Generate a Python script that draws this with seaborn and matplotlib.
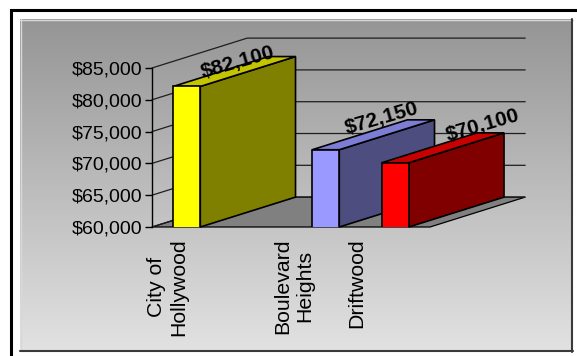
import numpy as np
import pandas as pd
import matplotlib
matplotlib.use("Agg")
import matplotlib.pyplot as plt
import seaborn as sns
from matplotlib.patches import Polygon, Rectangle
from matplotlib.lines import Line2D
from matplotlib.colors import LinearSegmentedColormap
from matplotlib.ticker import FuncFormatter
from matplotlib.transforms import offset_copy

# ---- data -------------------------------------------------------------
categories = ["City of\nHollywood", "", "Boulevard\nHeights", "Driftwood"]
prices = [82100, None, 72150, 70100]
y_ticks = [60000, 65000, 70000, 75000, 80000, 85000]

# ---- styles -----------------------------------------------------------
front_colors = ["#ffff00", None, "#9999ff", "#ff0000"]
side_colors = ["#808000", None, "#4d4d80", "#800000"]
top_colors = ["#c4c400", None, "#7d7dd6", "#c80000"]
# pixel nudges for the value labels (right, up)
label_nudge = [(3, 9), None, (8, 16), (40, 22)]

# depth of the pseudo-3D box, in category units and dollars
DX = 1.37
DY = 4700

sns.set_theme(style="white")
plt.rcParams["font.family"] = ["Liberation Sans", "DejaVu Sans"]

W, H = 577, 356
fig = plt.figure(figsize=(W / 100, H / 100), dpi=100)
fig.patch.set_facecolor("white")


def frac(x0, y0, x1, y1):
    return [x0 / W, 1 - y1 / H, (x1 - x0) / W, (y1 - y0) / H]


# gradient chart area
bg = fig.add_axes(frac(20, 19, 573, 351))
grad = np.linspace(0, 1, 256)[:, None]
cmap = LinearSegmentedColormap.from_list("panel", ["#959595", "#e2e2e2"])
bg.imshow(grad, aspect="auto", cmap=cmap, extent=[0, 1, 0, 1])
bg.axis("off")
bg.set_zorder(0)

# panel bevel edges
def fig_line(xs, ys, color, lw):
    fig.add_artist(Line2D([x / W for x in xs], [1 - y / H for y in ys],
                          transform=fig.transFigure, color=color, lw=lw))

fig_line([20, 573], [19.5, 19.5], "#d8d8d8", 1)
fig_line([20.5, 20.5], [19, 351], "#d8d8d8", 1)
fig_line([572, 572], [19, 352], "#3a3a3a", 1.5)
fig_line([20, 573], [351, 351], "#3a3a3a", 1.5)

# outer black frame
fig.add_artist(Rectangle((11.5 / W, -0.2), 1.2, (1 - 9.5 / H) + 0.2,
                         transform=fig.transFigure, fill=False,
                         edgecolor="black", lw=2.2))

# ---- plot -------------------------------------------------------------
ax = fig.add_axes(frac(152, 68, 430, 227))
ax.set_zorder(2)
ax.patch.set_visible(False)

df = pd.DataFrame({"area": categories, "price": prices}).dropna()
palette = {c: col for c, col in zip(categories, front_colors) if col}

sns.barplot(data=df, x="area", y="price", order=categories, hue="area",
            palette=palette, width=0.39, saturation=1, edgecolor="black",
            linewidth=1.2, legend=False, ax=ax)

ax.set_xlim(-0.5, 3.5)
ax.set_ylim(y_ticks[0], y_ticks[-1])
y0 = y_ticks[0]

# floor
ax.add_patch(Polygon([(-0.5, y0), (3.5, y0), (3.5 + DX, y0 + DY), (-0.5 + DX, y0 + DY)],
                     closed=True, facecolor="#808080", edgecolor="black",
                     lw=0.9, clip_on=False, zorder=1))

# gridlines on the side and back walls
for t in y_ticks:
    ax.plot([-0.5, -0.5 + DX, 3.5 + DX], [t, t + DY, t + DY],
            color="#1e1e1e", lw=0.9, clip_on=False, zorder=1.5)

# box faces for each bar
for p in list(ax.patches):
    if not isinstance(p, Rectangle):
        continue
    xl = p.get_x()
    xr = xl + p.get_width()
    i = int(round((xl + xr) / 2))
    v = prices[i]
    if v is None:
        continue
    p.set_zorder(4 + 2 * i)
    side = Polygon([(xr, y0), (xr + DX, y0 + DY), (xr + DX, v + DY), (xr, v)],
                   closed=True, facecolor=side_colors[i], edgecolor="black",
                   lw=1.2, clip_on=False, zorder=3 + 2 * i)
    top = Polygon([(xl, v), (xr, v), (xr + DX, v + DY), (xl + DX, v + DY)],
                  closed=True, facecolor=top_colors[i], edgecolor="black",
                  lw=1.2, clip_on=False, zorder=3 + 2 * i)
    ax.add_patch(side)
    ax.add_patch(top)

    nx, ny = label_nudge[i]
    ax.text((xl + xr) / 2 + DX / 2, v + DY / 2, f"${v:,.0f}",
            transform=offset_copy(ax.transData, fig=fig, x=nx, y=ny, units="dots"),
            rotation=16, rotation_mode="anchor", ha="center", va="center",
            fontsize=15, fontweight="bold", color="black", zorder=30)

# axis styling
sns.despine(ax=ax, top=True, right=True, bottom=True)
ax.spines["left"].set_color("black")
ax.spines["left"].set_linewidth(1.0)
ax.spines["left"].set_zorder(1.6)
ax.set_yticks(y_ticks)
ax.yaxis.set_major_formatter(FuncFormatter(lambda v, _: f"${v:,.0f}"))
ax.tick_params(axis="y", left=True, length=5, width=1, pad=2,
               labelsize=14, colors="black", direction="out")
ax.set_xticks([])
ax.set_xlabel("")
ax.set_ylabel("")

# category labels along the front edge of the floor
label_x = -0.27 + 0.906 * np.arange(len(categories))
label_tr = offset_copy(ax.get_xaxis_transform(), fig=fig, x=0, y=-11, units="dots")
for lx, cat in zip(label_x, categories):
    if not cat:
        continue
    ax.text(lx, 0, cat, transform=label_tr, rotation=90, ha="center", va="top",
            multialignment="center", fontsize=15.3, linespacing=1.2, color="black")

fig.savefig("out.png", dpi=100)
